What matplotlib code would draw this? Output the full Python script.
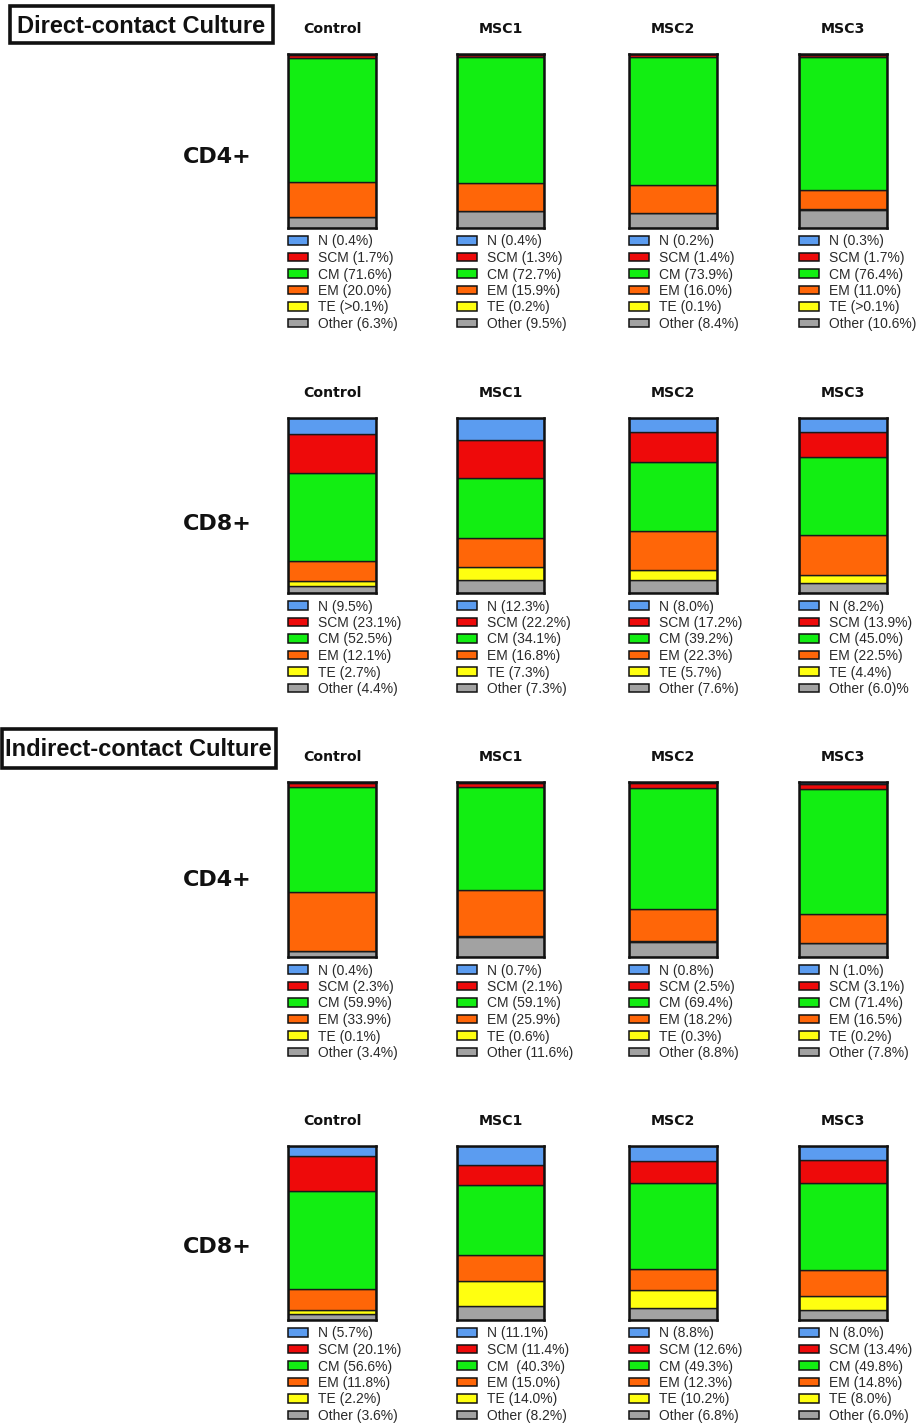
import matplotlib
matplotlib.use("Agg")
import matplotlib.pyplot as plt
from matplotlib.patches import Rectangle

plt.rcParams['font.family'] = ['Liberation Sans', 'DejaVu Sans']

# ---- data -------------------------------------------------------------
subsets = ["N", "SCM", "CM", "EM", "TE", "Other"]
groups = ["Control", "MSC1", "MSC2", "MSC3"]
colors = ["#5b9cf0", "#ee0a0a", "#12ee12", "#ff6608", "#ffff10", "#a2a2a2"]

# percentages per group, in the order of `subsets`
direct_cd4 = [
    [0.4, 1.7, 71.6, 20.0, 0.1, 6.3],
    [0.4, 1.3, 72.7, 15.9, 0.2, 9.5],
    [0.2, 1.4, 73.9, 16.0, 0.1, 8.4],
    [0.3, 1.7, 76.4, 11.0, 0.1, 10.6],
]
direct_cd8 = [
    [9.5, 23.1, 52.5, 12.1, 2.7, 4.4],
    [12.3, 22.2, 34.1, 16.8, 7.3, 7.3],
    [8.0, 17.2, 39.2, 22.3, 5.7, 7.6],
    [8.2, 13.9, 45.0, 22.5, 4.4, 6.0],
]
indirect_cd4 = [
    [0.4, 2.3, 59.9, 33.9, 0.1, 3.4],
    [0.7, 2.1, 59.1, 25.9, 0.6, 11.6],
    [0.8, 2.5, 69.4, 18.2, 0.3, 8.8],
    [1.0, 3.1, 71.4, 16.5, 0.2, 7.8],
]
indirect_cd8 = [
    [5.7, 20.1, 56.6, 11.8, 2.2, 3.6],
    [11.1, 11.4, 40.3, 15.0, 14.0, 8.2],
    [8.8, 12.6, 49.3, 12.3, 10.2, 6.8],
    [8.0, 13.4, 49.8, 14.8, 8.0, 6.0],
]

# label text that is written differently from the plain "NAME (x.x%)" form
label_overrides = {
    (0, 0, 4): "TE (>0.1%)",
    (0, 3, 4): "TE (>0.1%)",
    (1, 3, 5): "Other (6.0)%",
    (3, 1, 2): "CM  (40.3%)",
}

panels = [direct_cd4, direct_cd8, indirect_cd4, indirect_cd8]
row_labels = ["CD4+", "CD8+", "CD4+", "CD8+"]

# ---- layout (pixels) -------------------------------------------------
W, H = 917, 1425
fig = plt.figure(figsize=(W / 100, H / 100), dpi=100)

bar_tops = [54, 418, 782, 1146]
bar_bottoms = [228, 593, 957, 1320]
col_x = [(288, 376), (457, 544), (629, 717), (799, 887)]
row_label_base = [163, 530, 886, 1253]

bold_wide = ['DejaVu Sans']


def fx(px):
    return px / W


def fy(py):
    return 1 - py / H


for p, data in enumerate(panels):
    top, bot = bar_tops[p], bar_bottoms[p]
    for g, (x0, x1) in enumerate(col_x):
        ax = fig.add_axes([fx(x0), fy(bot), fx(x1 - x0), (bot - top) / H])
        vals = data[g]
        total = sum(vals)
        # stack from the bottom: Other, TE, EM, CM, SCM, N
        base = 0.0
        for k in range(len(subsets) - 1, -1, -1):
            ax.bar(0, vals[k], bottom=base, width=1.0, color=colors[k],
                   edgecolor="#1a1a1a", linewidth=1.0)
            base += vals[k]
        ax.set_xlim(-0.5, 0.5)
        ax.set_ylim(0, total)
        ax.set_xticks([])
        ax.set_yticks([])
        for s in ax.spines.values():
            s.set_linewidth(1.8)
            s.set_color("#111111")
        ax.set_title(groups[g], fontsize=10.2, fontweight="bold", pad=15,
                     color="#111111", family=bold_wide)

        # legend rows under the bar
        for k, name in enumerate(subsets):
            yc = bot + 12.5 + k * 16.5
            rect = Rectangle((fx(x0), fy(yc + 4.3)), fx(20), 8.6 / H,
                             transform=fig.transFigure, facecolor=colors[k],
                             edgecolor="#111111", linewidth=1.1)
            fig.patches.append(rect)
            txt = label_overrides.get((p, g, k), f"{name} ({vals[k]:.1f}%)")
            fig.text(fx(x0 + 30), fy(yc + 1), txt, fontsize=10,
                     color="#2a2a2a", ha="left", va="center")

    fig.text(fx(217.5), fy(row_label_base[p]), row_labels[p], fontsize=16,
             fontweight="bold", ha="center", va="baseline", color="#111111",
             family=bold_wide)

# culture headers in framed boxes
headers = [("Direct-contact Culture", (8, 5, 274, 44)),
           ("Indirect-contact Culture", (0, 727, 277, 769))]
for text, (x0, y0, x1, y1) in headers:
    fig.patches.append(Rectangle((fx(x0 + 1.5), fy(y1 - 1.5)), fx(x1 - x0 - 3),
                                 (y1 - y0 - 3) / H, transform=fig.transFigure,
                                 facecolor="white", edgecolor="#111111",
                                 linewidth=2.6))
    fig.text(fx((x0 + x1) / 2), fy((y0 + y1) / 2 + 8.5), text, fontsize=17,
             fontweight="bold", ha="center", va="baseline", color="#111111")

fig.savefig("out.png", dpi=100, facecolor="white")
